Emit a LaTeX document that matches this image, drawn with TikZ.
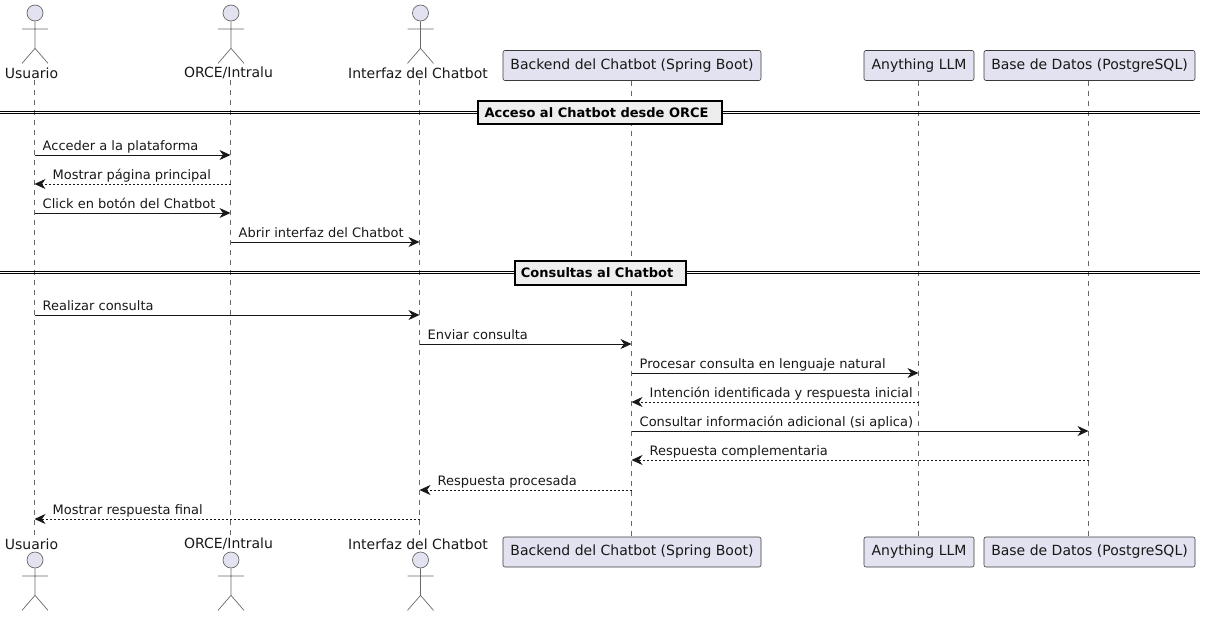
\documentclass[tikz,border=0pt]{standalone}
\usepackage{fontspec}
\setmainfont{DejaVu Sans}
\definecolor{umlfill}{HTML}{E2E2F0}
\definecolor{umlline}{HTML}{181818}
\definecolor{umlsep}{HTML}{EEEEEE}
\usetikzlibrary{arrows.meta,positioning}
\tikzset{
  partbox/.style={rectangle,rounded corners=2pt,draw=umlline!85,fill=umlfill,
                  line width=0.6pt,minimum height=30pt,inner xsep=0pt,
                  font=\fontsize{14pt}{16pt}\selectfont,text=umlline},
  actorlabel/.style={font=\fontsize{14pt}{16pt}\selectfont,text=umlline,inner sep=0pt},
  actorline/.style={draw=umlline!65,line width=0.7pt},
  actorhead/.style={circle,draw=umlline!65,fill=umlfill,line width=0.7pt,
                    minimum size=16pt,inner sep=0pt},
  lifeline/.style={draw=umlline!65,line width=0.5pt,dash pattern=on 5pt off 5pt},
  call/.style={-{Stealth[length=11pt,width=10pt,inset=3.5pt]},draw=umlline,line width=0.9pt},
  answer/.style={call,dash pattern=on 2pt off 2pt},
  msg/.style={font=\fontsize{13pt}{15pt}\selectfont,text=umlline,inner sep=0pt,anchor=base west},
  sepbox/.style={rectangle,draw=black,fill=umlsep,line width=2pt,inner sep=0pt,
                 font=\fontsize{13pt}{15pt}\selectfont\bfseries,text=black},
  sepline/.style={draw=black,line width=1.1pt},
}
\begin{document}
\begin{tikzpicture}[x=1pt,y=-1pt]
  \useasboundingbox (0,0) rectangle (1205,616);
  % lifelines
  \foreach \n/\x/\ya/\yb in {usuario/34.5/80/535,orce/230.5/80/535,interfaz/419.5/80/535,
                             backend/631.5/81/537,llm/918.5/81/537,base/1088.5/81/537} {
    \coordinate (\n T) at (\x,\ya);
    \coordinate (\n B) at (\x,\yb);
    \draw[lifeline] (\n T) -- (\n B);
  }
  % actors, top and bottom
  \foreach \n/\x/\lx/\txt in {usuario/35/31.5/Usuario,orce/231/228.5/{ORCE/Intralu},interfaz/420.5/418/Interfaz del Chatbot} {
    \node[actorlabel] (\n L1) at (\lx,73) {\txt};
    \node[actorlabel] (\n L2) at (\lx,544) {\txt};
    \node[actorhead] (\n H1) at (\x,13) {};
    \node[actorhead] (\n H2) at (\x,560) {};
    \draw[actorline] (\n H1.south) -- ++(0,27) coordinate (\n K1) -- ++(-13,15) (\n K1) -- ++(13,15)
      (\x-13,29) -- (\x+13,29);
    \draw[actorline] (\n H2.south) -- ++(0,27) coordinate (\n K2) -- ++(-13,15) (\n K2) -- ++(13,15)
      (\x-13,576) -- (\x+13,576);
  }
  % participants, top and bottom
  \foreach \n/\x/\w/\txt in {backend/632/258/Backend del Chatbot (Spring Boot),
                             llm/919/110/Anything LLM,
                             base/1089.5/211/Base de Datos (PostgreSQL)} {
    \node[partbox,minimum width=\w pt] (\n P1) at (\x,65.5) {\txt};
    \node[partbox,minimum width=\w pt] (\n P2) at (\x,552) {\txt};
  }
  % separators
  \foreach \n/\y/\x/\w/\h/\txt in {sepa/112.5/600/244/23/Acceso al Chatbot desde ORCE,
                                   sepb/272.5/600.5/171/24/Consultas al Chatbot} {
    \coordinate (\n W) at (0,\y);
    \coordinate (\n E) at (1200,\y);
    \draw[sepline] ([yshift=1.4pt]\n W) -- ([yshift=1.4pt]\n E);
    \draw[sepline] ([yshift=-1.4pt]\n W) -- ([yshift=-1.4pt]\n E);
    \node[sepbox,minimum width=\w pt,minimum height=\h pt] (\n) at (\x,\y) {\txt\kern7pt};
  }
  % requests
  \foreach \k/\a/\b/\y/\txt in {
      a/usuario/orce/155/Acceder a la plataforma,
      c/usuario/orce/213/Click en botón del Chatbot,
      d/orce/interfaz/242/Abrir interfaz del Chatbot,
      e/usuario/interfaz/315/Realizar consulta,
      f/interfaz/backend/344/Enviar consulta,
      g/backend/llm/373/Procesar consulta en lenguaje natural,
      i/backend/base/431/Consultar información adicional (si aplica)} {
    \coordinate (\k S) at (\a T |- 0,\y);
    \coordinate (\k E) at (\b T |- 0,\y);
    \draw[call] (\k S) -- (\k E);
    \node[msg] (\k M) at ([xshift=8pt,yshift=4.6pt]\k S) {\txt};
  }
  % answers
  \foreach \k/\a/\b/\y/\txt in {
      b/orce/usuario/184/Mostrar página principal,
      h/llm/backend/402/Intención identificada y respuesta inicial,
      j/base/backend/460/Respuesta complementaria,
      l/backend/interfaz/490/Respuesta procesada,
      m/interfaz/usuario/519/Mostrar respuesta final} {
    \coordinate (\k S) at (\a T |- 0,\y);
    \coordinate (\k E) at (\b T |- 0,\y);
    \draw[answer] (\k S) -- (\k E);
    \node[msg] (\k M) at ([xshift=18pt,yshift=4.6pt]\k E) {\txt};
  }
\end{tikzpicture}
\end{document}
